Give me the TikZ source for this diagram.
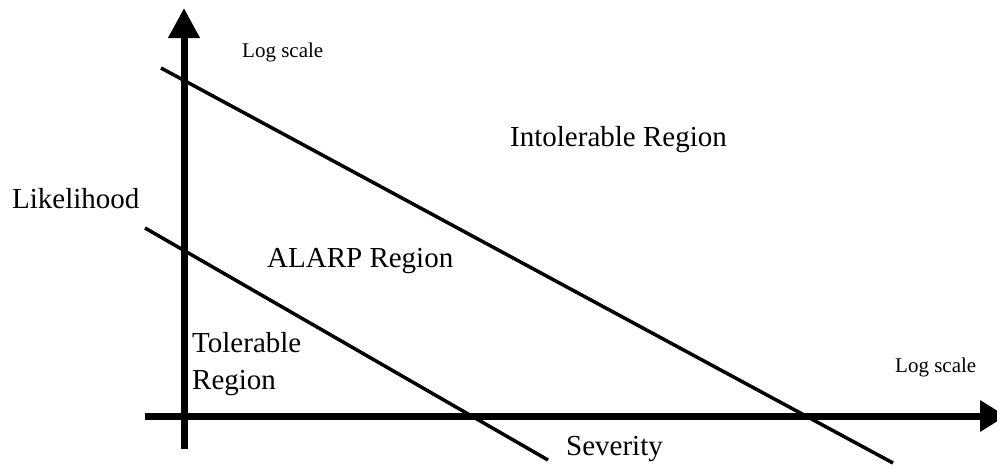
\documentclass[tikz,border=0pt]{standalone}
\usepackage{fontspec}
\setmainfont{Liberation Serif}
\usetikzlibrary{arrows.meta}
\begin{document}
\begin{tikzpicture}[x=1pt,y=-1pt,
  axis/.style={line width=7pt,-{Triangle[length=30pt,width=30pt]}},
  boundary/.style={line width=3.5pt},
  big/.style={inner sep=0pt,font=\fontsize{29}{37}\selectfont},
  small/.style={inner sep=0pt,font=\fontsize{21}{25}\selectfont}]
\useasboundingbox (0,0) rectangle (997,469);
\coordinate (yb) at (184,449);
\coordinate (yt) at (184,8);
\coordinate (xl) at (145,416);
\coordinate (xr) at (1006,416);
\coordinate (a1) at (161,68);
\coordinate (a2) at (893,463);
\coordinate (b1) at (145,228);
\coordinate (b2) at (548,460);
\draw[axis] (yb) -- (yt);
\draw[axis,-{Triangle[length=26pt,width=30pt]}] (xl) -- (xr);
\draw[boundary] (a1) -- (a2);
\draw[boundary] (b1) -- (b2);
\node[small,anchor=base west] (ls1) at (242,57) {Log scale};
\node[small,anchor=base west] (ls2) at (895,372) {Log scale};
\node[big,anchor=base west] (intol) at (510,146) {Intolerable Region};
\node[big,anchor=base west] (lik) at (12,208) {Likelihood};
\node[big,anchor=base west] (alarp) at (267,267) {ALARP Region};
\node[big,anchor=north west,align=left] (tol) at (192,332) {Tolerable\\Region};
\node[big,anchor=base west] (sev) at (566,455) {Severity};
\end{tikzpicture}
\end{document}
